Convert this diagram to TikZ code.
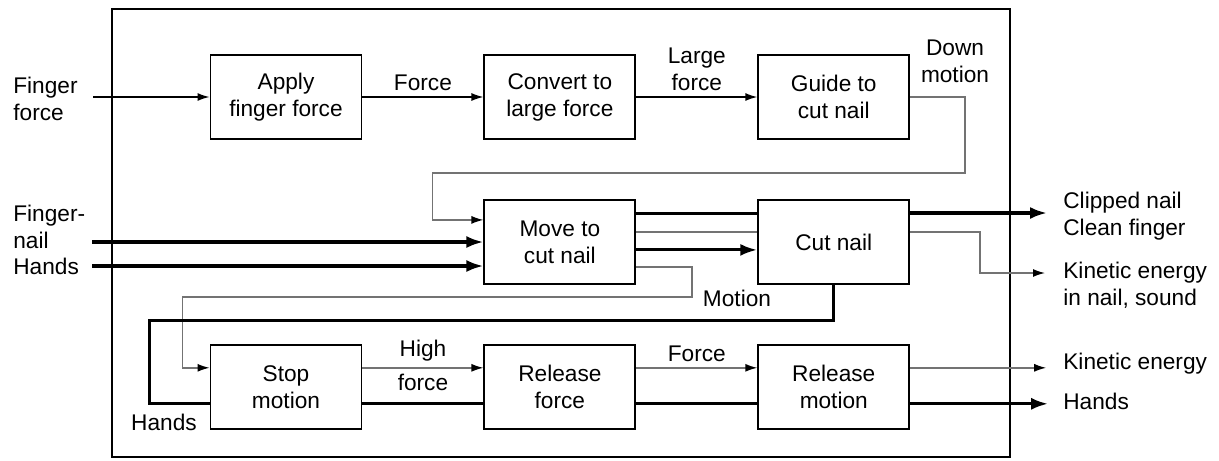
\documentclass[tikz,border=0pt]{standalone}
\usepackage{fontspec}
\setmainfont{Liberation Sans}
\usetikzlibrary{arrows.meta,positioning}

\begin{document}
\begin{tikzpicture}[x=0.02cm, y=-0.02cm, font=\fontsize{12.9}{15.3}\selectfont,
        func/.style={rectangle, draw, line width=1.1pt, minimum width=3.02cm, minimum height=1.68cm, inner sep=0pt, align=center},
        lbl/.style={align=left, inner sep=0pt, anchor=west},
        tag/.style={align=center, text=black},
        sigline/.style={line width=0.8pt},
        sigarrow/.style={sigline, -{Latex[length=2.4mm, width=1.6mm]}},
        matline/.style={line width=1.8pt},
        matarrow/.style={matline, -{Latex[length=3.4mm, width=2.4mm]}},
        enline/.style={line width=0.8pt, draw=black!55},
        enarrow/.style={enline, -{Latex[length=2.4mm, width=1.6mm, color=black]}}]

        \useasboundingbox (0,0) rectangle (1219,460);
        \draw[line width=1.1pt] (112,9) rectangle (1010,457);

        \node[func] (apply) at (286,97) {Apply\\finger force};
        \node[func, right=2.42cm of apply] (convert) {Convert to\\large force};
        \node[func, right=2.42cm of convert] (guide) {Guide to\\cut nail};
        \node[func, below=1.18cm of convert] (move) {Move to\\cut nail};
        \node[func, below=1.18cm of guide] (cut) {Cut nail};
        \node[func, below=1.18cm of move] (relforce) {Release\\force};
        \node[func, left=2.42cm of relforce] (stop) {Stop\\motion};
        \node[func, right=2.42cm of relforce] (relmotion) {Release\\motion};

        % inputs and outputs
        \coordinate (ffin) at (93,97);
        \coordinate (nailin) at (92,242);
        \coordinate (handsin) at (92,266);
        \coordinate (clipout) at (1047,213);
        \coordinate (keout) at (1045,273);
        \coordinate (ketwoout) at ([xshift=2.72cm, yshift=.38cm]relmotion.east);
        \coordinate (handsout) at ([xshift=2.76cm, yshift=-.34cm]relmotion.east);

        \node[lbl] (fflbl) at (13,99) {Finger\\force};
        \node[lbl] (naillbl) at (13,227) {Finger-\\nail};
        \node[lbl] (handsinlbl) at (13,266) {Hands};
        \node[lbl] (cliplbl) at (1063,216) {Clipped nail\\Clean finger};
        \node[lbl] (kelbl) at (1063,285) {Kinetic energy\\in nail, sound};
        \node[lbl] (ketwolbl) at (1063,364) {Kinetic energy};
        \node[lbl] (handsoutlbl) at (1063,401) {Hands};
        \node[tag] (downlbl) at (955,61) {Down\\motion};
        \node (motionlbl) at (737,298) {Motion};
        \node (handsfblbl) at (164,422) {Hands};

        % top row
        \draw[sigarrow] (ffin) -- (apply);
        \draw[sigarrow] (apply) -- node[above] {Force} (convert);
        \draw[sigarrow] (convert) -- node[above, tag] {Large\\force} (guide);
        \draw[enarrow] (guide.east) -| (965,173) -| ([xshift=-1.02cm, yshift=.44cm]move.west) -- ([yshift=.44cm]move.west);

        % middle row
        \draw[matarrow] (nailin) -- (move.west |- nailin);
        \draw[matarrow] (handsin) -- (move.west |- handsin);
        \draw[matline] ([yshift=.56cm]move.east) -- ([yshift=.56cm]cut.west);
        \draw[enline] ([yshift=.2cm]move.east) -- ([yshift=.2cm]cut.west);
        \draw[matarrow] ([yshift=-.16cm]move.east) -- ([yshift=-.16cm]cut.west);
        \draw[enarrow] ([yshift=-.5cm]move.east) -| (692,297) -| ([xshift=-.54cm, yshift=.38cm]stop.west) -- ([yshift=.38cm]stop.west);
        \draw[matarrow] (cut.east |- clipout) -- (clipout);
        \draw[enarrow] ([yshift=.2cm]cut.east) -| (980,273) -- (keout);
        \draw[matline] (cut.south) -- ++(0,36) -| ([xshift=-1.2cm, yshift=-.34cm]stop.west) -- ([yshift=-.34cm]stop.west);

        % bottom row
        \draw[enarrow] ([yshift=.38cm]stop.east) -- node[above, tag] {High} node[below, tag] {force} ([yshift=.38cm]relforce.west);
        \draw[matline] ([yshift=-.34cm]stop.east) -- ([yshift=-.34cm]relforce.west);
        \draw[enarrow] ([yshift=.38cm]relforce.east) -- node[above, tag] {Force} ([yshift=.38cm]relmotion.west);
        \draw[matline] ([yshift=-.34cm]relforce.east) -- ([yshift=-.34cm]relmotion.west);
        \draw[enarrow] ([yshift=.38cm]relmotion.east) -- (ketwoout);
        \draw[matarrow] ([yshift=-.34cm]relmotion.east) -- (handsout);
    \end{tikzpicture}
\end{document}
